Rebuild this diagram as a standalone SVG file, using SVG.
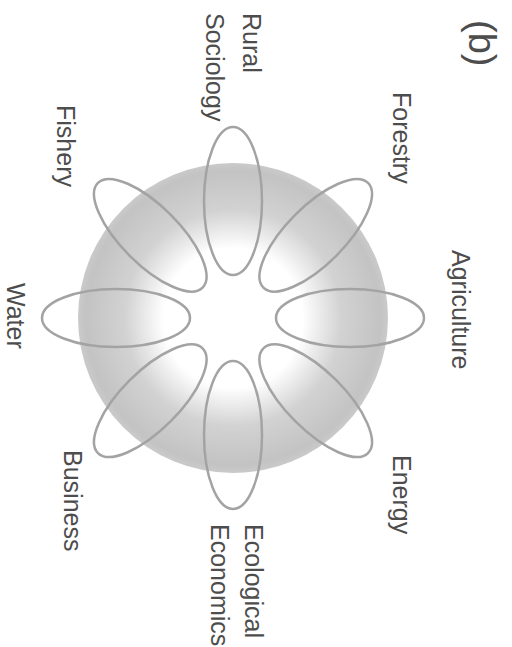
<svg xmlns="http://www.w3.org/2000/svg" width="512" height="647" viewBox="0 0 512 647">
  <defs>
    <radialGradient id="disk" cx="0.5" cy="0.5" r="0.5">
      <stop offset="0" stop-color="#ffffff"/>
      <stop offset="0.45" stop-color="#ffffff"/>
      <stop offset="0.7" stop-color="#d2d2d2"/>
      <stop offset="0.95" stop-color="#c3c3c3"/>
      <stop offset="1" stop-color="#cacaca"/>
    </radialGradient>
  </defs>
  <style>
    .petal { fill: none; stroke: #a3a3a3; stroke-width: 2.5; }
    .lbl { font-family: "Liberation Sans", Arial, sans-serif; font-size: 25px; fill: #4d4d4d; }
    .title { font-family: "Liberation Sans", Arial, sans-serif; font-size: 38px; fill: #4d4d4d; }
  </style>
  <rect width="512" height="647" fill="#ffffff"/>
  <g id="disk-bg">
    <circle cx="233" cy="318" r="155" fill="url(#disk)"/>
  </g>
  <g id="agriculture">
    <ellipse class="petal" cx="117" cy="0" rx="74" ry="29" transform="translate(233,318) rotate(0)"/>
    <text class="lbl" transform="translate(452,250) rotate(90)">Agriculture</text>
  </g>
  <g id="forestry">
    <ellipse class="petal" cx="117" cy="0" rx="74" ry="29" transform="translate(233,318) rotate(-45)"/>
    <text class="lbl" transform="translate(393,92) rotate(90)">Forestry</text>
  </g>
  <g id="rural-sociology">
    <ellipse class="petal" cx="117" cy="0" rx="74" ry="29" transform="translate(233,318) rotate(-90)"/>
    <text class="lbl" transform="translate(243,13) rotate(90)">Rural</text>
    <text class="lbl" transform="translate(206,13) rotate(90)">Sociology</text>
  </g>
  <g id="fishery">
    <ellipse class="petal" cx="117" cy="0" rx="74" ry="29" transform="translate(233,318) rotate(-135)"/>
    <text class="lbl" transform="translate(57,105) rotate(90)">Fishery</text>
  </g>
  <g id="water">
    <ellipse class="petal" cx="117" cy="0" rx="74" ry="29" transform="translate(233,318) rotate(180)"/>
    <text class="lbl" transform="translate(7,283) rotate(90)">Water</text>
  </g>
  <g id="business">
    <ellipse class="petal" cx="117" cy="0" rx="74" ry="29" transform="translate(233,318) rotate(135)"/>
    <text class="lbl" transform="translate(64,450) rotate(90)">Business</text>
  </g>
  <g id="ecological-economics">
    <ellipse class="petal" cx="117" cy="0" rx="74" ry="29" transform="translate(233,318) rotate(90)"/>
    <text class="lbl" transform="translate(245,524) rotate(90)">Ecological</text>
    <text class="lbl" transform="translate(211,524) rotate(90)">Economics</text>
  </g>
  <g id="energy">
    <ellipse class="petal" cx="117" cy="0" rx="74" ry="29" transform="translate(233,318) rotate(45)"/>
    <text class="lbl" transform="translate(393,455) rotate(90)">Energy</text>
  </g>
  <g id="label-b">
    <text class="title" transform="translate(469,20) rotate(90)">(b)</text>
  </g>
</svg>
